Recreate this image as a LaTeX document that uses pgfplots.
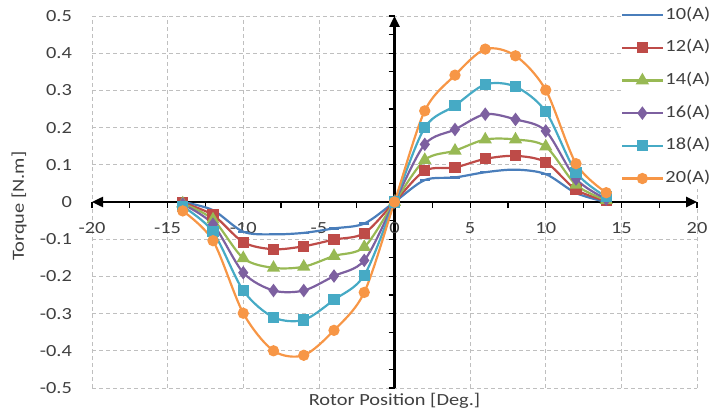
\documentclass[border=0pt]{standalone}
\usepackage{fontspec}
\setmainfont{Carlito}[FakeStretch=1.2]
\usepackage{pgfplots}
\pgfplotsset{compat=1.18}
\usepackage{pgfplotstable}
\usetikzlibrary{arrows.meta}
\definecolor{c10}{HTML}{4A7EBB}
\definecolor{c12}{HTML}{BE4B48}
\definecolor{c14}{HTML}{98B954}
\definecolor{c16}{HTML}{7D60A0}
\definecolor{c18}{HTML}{46AAC5}
\definecolor{c20}{HTML}{F79646}
\definecolor{txt}{HTML}{404040}
\pgfplotstableread{
x    a10    a12    a14    a16    a18    a20
-14  0.000 -0.002 -0.004 -0.006 -0.012 -0.024
-12 -0.022 -0.035 -0.047 -0.060 -0.080 -0.104
-10 -0.080 -0.108 -0.151 -0.190 -0.238 -0.299
-8  -0.087 -0.127 -0.177 -0.238 -0.310 -0.400
-6  -0.083 -0.119 -0.174 -0.238 -0.317 -0.412
-4  -0.071 -0.101 -0.145 -0.199 -0.263 -0.345
-2  -0.058 -0.084 -0.121 -0.157 -0.197 -0.243
0    0.000  0.000  0.000  0.000  0.000  0.000
2    0.059  0.084  0.113  0.155  0.200  0.245
4    0.066  0.093  0.138  0.195  0.259  0.341
6    0.080  0.116  0.168  0.236  0.316  0.411
8    0.087  0.124  0.168  0.222  0.310  0.393
10   0.075  0.107  0.149  0.191  0.243  0.301
12   0.024  0.033  0.046  0.062  0.080  0.103
14   0.000  0.003  0.005  0.008  0.014  0.025
}\data
\begin{document}
\begin{tikzpicture}
\begin{axis}[
  scale only axis, width=605bp, height=372bp,
  xmin=-20, xmax=20, ymin=-0.5, ymax=0.5,
  axis lines=middle,
  axis line style={line width=2.4bp, black},
  every inner x axis line/.append style={{Triangle[length=11bp,width=10bp]}-{Triangle[length=11bp,width=10bp]}},
  every inner y axis line/.append style={-{Triangle[length=11bp,width=10bp]}},
  xtick={-20,-15,-10,-5,0,5,10,15,20},
  ytick={-0.5,-0.4,-0.3,-0.2,-0.1,0,0.1,0.2,0.3,0.4,0.5},
  minor x tick num=1, minor y tick num=1,
  tick align=outside,
  major tick length=6bp, minor tick length=6bp,
  tick style={line width=1.2bp, black},
  hide obscured x ticks=false, hide obscured y ticks=false,
  grid=major,
  major grid style={gray!50, line width=0.7bp, dash pattern=on 4bp off 3bp},
  /pgf/number format/assume math mode=true,
  tick label style={font=\fontsize{17bp}{20bp}\selectfont, text=txt},
  yticklabel style={anchor=east, xshift=-313bp},
  xticklabel style={anchor=north, yshift=-11bp},
  xlabel={Rotor Position [Deg.]},
  ylabel={Torque [N.m]},
  label style={font=\fontsize{17bp}{20bp}\selectfont, text=txt},
  xlabel style={at={(axis description cs:0.5,0)}, anchor=north, yshift=-2bp},
  ylabel style={at={(axis description cs:-0.1207,0.489)}, anchor=center, rotate=90},
  legend style={at={(rel axis cs:0.8745,1.030)}, anchor=north west, draw=none, fill=white,
    font=\fontsize{17bp}{20bp}\selectfont, text=txt, inner sep=0pt, row sep=12.7bp,
    nodes={inner sep=2bp, text height=12bp, text depth=4bp}},
  legend cell align=left,
  legend image code/.code={\draw[mark repeat=2,mark phase=2,#1] plot coordinates {(0bp,0bp) (20bp,0bp) (40bp,0bp)};},
  every axis plot/.append style={line width=2.2bp, smooth, tension=0.5},
]
\addplot[color=c10, mark=-, mark size=5bp] table[x=x,y=a10] {\data};
\addlegendentry{10(A)}
\addplot[color=c12, mark=square*, mark size=4.5bp, mark options={solid, fill=c12}] table[x=x,y=a12] {\data};
\addlegendentry{12(A)}
\addplot[color=c14, mark=triangle*, mark size=5.5bp, mark options={solid, fill=c14}] table[x=x,y=a14] {\data};
\addlegendentry{14(A)}
\addplot[color=c16, mark=diamond*, mark size=5bp, mark options={solid, fill=c16}] table[x=x,y=a16] {\data};
\addlegendentry{16(A)}
\addplot[color=c18, mark=square*, mark size=4.5bp, mark options={solid, fill=c18}] table[x=x,y=a18] {\data};
\addlegendentry{18(A)}
\addplot[color=c20, mark=*, mark size=4.5bp, mark options={solid, fill=c20}] table[x=x,y=a20] {\data};
\addlegendentry{20(A)}
\end{axis}
\pgfresetboundingbox
\path[use as bounding box] ([shift={(-92bp,-31bp)}]current axis.south west) rectangle ([shift={(13bp,16bp)}]current axis.north east);
\end{tikzpicture}
\end{document}
